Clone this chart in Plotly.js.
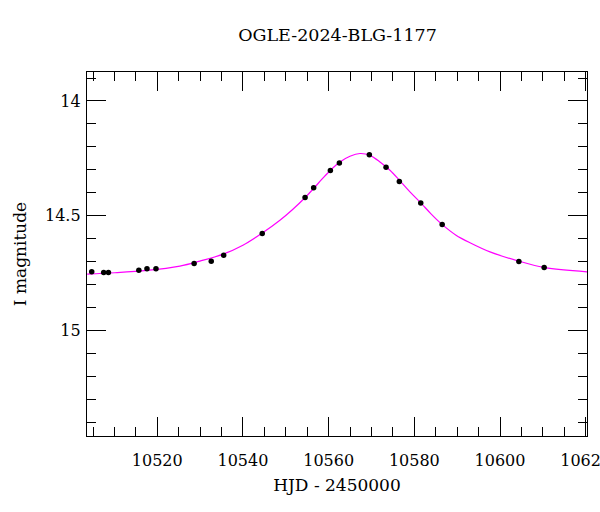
<!DOCTYPE html>
<html>
<head>
<meta charset="utf-8">
<script src="https://cdn.plot.ly/plotly-3.0.1.min.js"></script>
<style>html,body{margin:0;padding:0;background:#fff;}#chart{width:600px;height:512px;}</style>
</head>
<body>
<div id="chart"></div>
<script>
// Observed photometry (HJD - 2450000, I magnitude)
const obsHJD = [10504.7, 10507.5, 10508.6, 10515.7, 10517.6, 10519.7, 10528.6, 10532.6, 10535.5,
                10544.5, 10554.5, 10556.5, 10560.4, 10562.5, 10569.5, 10573.4, 10576.5, 10581.5,
                10586.5, 10604.4, 10610.3];
const obsMag = [14.745, 14.748, 14.748, 14.738, 14.732, 14.731, 14.709, 14.699, 14.673,
                14.578, 14.421, 14.378, 14.303, 14.270, 14.234, 14.289, 14.351, 14.445,
                14.539, 14.700, 14.726];

// Model light curve
const modelHJD = [10503.63, 10510.10, 10517.57, 10525.28, 10529.95, 10535.39, 10539.99, 10544.43,
                  10548.63, 10551.66, 10554.47, 10556.57, 10558.44, 10560.30, 10562.64, 10564.97,
                  10567.31, 10569.64, 10571.98, 10574.31, 10576.65, 10578.98, 10581.55, 10583.89,
                  10586.46, 10589.73, 10592.99, 10597.66, 10604.32, 10610.51, 10620.32];
const modelMag = [14.755, 14.749, 14.739, 14.720, 14.698, 14.668, 14.629, 14.577,
                  14.520, 14.472, 14.422, 14.380, 14.341, 14.304, 14.266, 14.241,
                  14.229, 14.237, 14.266, 14.302, 14.348, 14.396, 14.445, 14.492,
                  14.538, 14.585, 14.618, 14.658, 14.698, 14.727, 14.745];

const titleText = 'OGLE-2024-BLG-1177';
const xTitle = 'HJD - 2450000';
const yTitle = 'I magnitude';
const xTicks = [10520, 10540, 10560, 10580, 10600, 10620];
const yTicks = [14, 14.5, 15];
const yTickText = ['14', '14.5', '15'];

const FONT = '"DejaVu Serif", "Liberation Serif", serif';

const traces = [
  {x: modelHJD, y: modelMag, mode: 'lines', type: 'scatter',
   line: {color: '#ff00ff', width: 1.2, shape: 'spline', smoothing: 0.9}, hoverinfo: 'skip'},
  {x: obsHJD, y: obsMag, mode: 'markers', type: 'scatter',
   marker: {color: '#000', size: 5.5}}
];

const axisCommon = {
  showgrid: false, zeroline: false, showline: true, linecolor: '#000', linewidth: 1.2,
  ticks: 'inside', ticklen: 19, tickwidth: 1, tickcolor: '#000', mirror: 'ticks',
  ticklabeloverflow: 'allow',
  tickfont: {family: FONT, size: 16, color: '#000'},
  minor: {ticks: 'inside', ticklen: 9, tickwidth: 1, tickcolor: '#000', showgrid: false}
};

const layout = {
  width: 600, height: 512,
  margin: {l: 87, r: 13, t: 72, b: 76},
  paper_bgcolor: '#fff', plot_bgcolor: '#fff',
  showlegend: false,
  title: {text: titleText, font: {family: FONT, size: 17.5, color: '#000'},
          x: 0.5625, xanchor: 'center', y: 1 - 35/512, yanchor: 'middle', yref: 'container'},
  xaxis: Object.assign({}, axisCommon, {
    range: [10503.6, 10620.3], tickvals: xTicks, ticktext: xTicks.map(String),
    minor: Object.assign({}, axisCommon.minor, {dtick: 5, tick0: 10500}),
    ticklabelstandoff: 10,
    title: {text: xTitle, font: {family: FONT, size: 17, color: '#000'}, standoff: 9}
  }),
  yaxis: Object.assign({}, axisCommon, {
    range: [15.4608, 13.8736], tickvals: yTicks, ticktext: yTickText,
    minor: Object.assign({}, axisCommon.minor, {dtick: 0.1, tick0: 14}),
    ticklabelstandoff: 2,
    title: {text: yTitle, font: {family: FONT, size: 17, color: '#000'}, standoff: 14}
  })
};

Plotly.newPlot('chart', traces, layout, {displayModeBar: false, staticPlot: true});
</script>
</body>
</html>
